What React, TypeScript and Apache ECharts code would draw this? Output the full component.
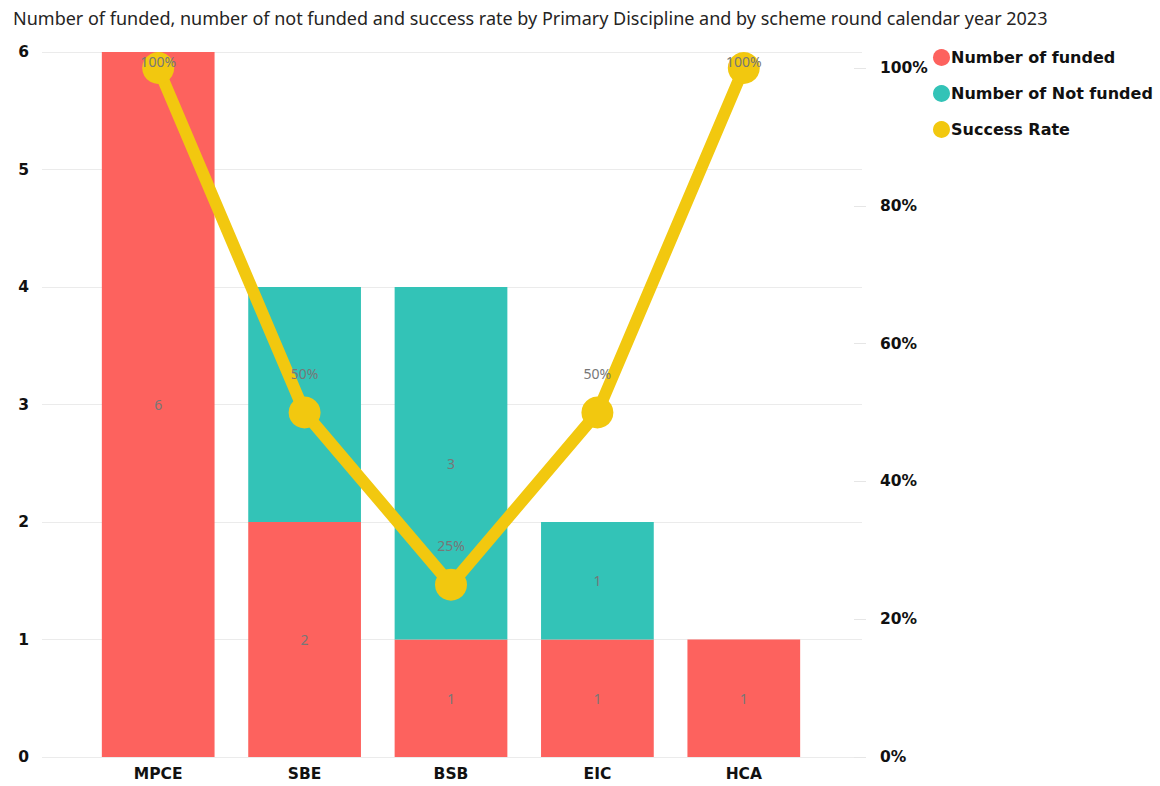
import React, { useEffect, useRef } from "react";
import * as echarts from "echarts";

const categories = ["MPCE", "SBE", "BSB", "EIC", "HCA"];
const funded = [6, 2, 1, 1, 1];
const notFunded = [0, 2, 3, 1, 0];
const successRate = [1, 0.5, 0.25, 0.5, 1];
const leftTicks = { min: 0, max: 6, interval: 1 };
const rightTicks = { min: 0, max: 1, interval: 0.2 };

const RED = "#FD625E";
const TEAL = "#33C3B7";
const YELLOW = "#F2C80F";
const AXIS_FONT = "DejaVu Sans";

export default function App() {
  const ref = useRef<HTMLDivElement>(null);
  useEffect(() => {
    if (!ref.current) return;
    const chart = echarts.init(ref.current, undefined, { renderer: "svg" });
    const barLabel = {
      show: true,
      position: "inside",
      color: "#777",
      fontSize: 14,
      fontFamily: "Noto Sans",
      formatter: (p: any) => (p.value ? String(p.value) : ""),
    };
    chart.setOption({
      animation: false,
      backgroundColor: "#fff",
      title: {
        text: "Number of funded, number of not funded and success rate by Primary Discipline and by scheme round calendar year 2023",
        left: 8,
        top: 4,
        textStyle: { fontSize: 18, fontWeight: "normal", color: "#252423", fontFamily: "Noto Sans" },
      },
      legend: {
        orient: "vertical",
        left: 928,
        top: 44,
        icon: "circle",
        itemWidth: 17,
        itemHeight: 17,
        itemGap: 19,
        data: ["Number of funded", "Number of Not funded", "Success Rate"],
        textStyle: { fontSize: 16, fontWeight: "bold", color: "#111", fontFamily: AXIS_FONT, padding: [0, 0, 0, -4] },
      },
      grid: [
        { left: 42, right: 298, top: 52, bottom: 29 },
        { left: 85, right: 343, top: 52, bottom: 29 },
        { left: 85, right: 343, top: 68, bottom: 29 },
      ],
      xAxis: [
        { gridIndex: 0, type: "value", show: false, min: 0, max: 1 },
        {
          gridIndex: 1,
          type: "category",
          data: categories,
          axisLine: { show: false },
          axisTick: { show: false },
          axisLabel: { color: "#111", fontSize: 15.5, fontWeight: "bold", fontFamily: AXIS_FONT, margin: 9 },
        },
        { gridIndex: 2, type: "category", data: categories, show: false },
      ],
      yAxis: [
        {
          gridIndex: 0,
          type: "value",
          ...leftTicks,
          axisLine: { show: false },
          axisTick: { show: false },
          axisLabel: { color: "#111", fontSize: 15.5, fontWeight: "bold", fontFamily: AXIS_FONT, margin: 13 },
          splitLine: { lineStyle: { color: "#ebebeb", width: 1 } },
        },
        { gridIndex: 1, type: "value", ...leftTicks, show: false },
        {
          gridIndex: 2,
          type: "value",
          position: "right",
          offset: 49,
          ...rightTicks,
          axisLine: { show: false },
          axisTick: { show: true, inside: true, length: 12, lineStyle: { color: "#e6e6e6" } },
          splitLine: { show: false },
          axisLabel: {
            color: "#111",
            fontSize: 15.5,
            fontWeight: "bold",
            fontFamily: AXIS_FONT,
            margin: 14,
            formatter: (v: number) => Math.round(v * 100) + "%",
          },
        },
      ],
      series: [
        {
          name: "Number of funded",
          type: "bar",
          stack: "total",
          xAxisIndex: 1,
          yAxisIndex: 1,
          data: funded,
          barCategoryGap: "23%",
          itemStyle: { color: RED },
          label: barLabel,
        },
        {
          name: "Number of Not funded",
          type: "bar",
          stack: "total",
          xAxisIndex: 1,
          yAxisIndex: 1,
          data: notFunded,
          barCategoryGap: "23%",
          itemStyle: { color: TEAL },
          label: barLabel,
        },
        {
          name: "Success Rate",
          type: "line",
          xAxisIndex: 2,
          yAxisIndex: 2,
          data: successRate.map((v) =>
            v >= 1
              ? { value: v, label: { position: "inside", offset: [0, -7] } }
              : { value: v }
          ),
          symbol: "circle",
          symbolSize: 32,
          lineStyle: { color: YELLOW, width: 12 },
          itemStyle: { color: YELLOW },
          z: 5,
          label: {
            show: true,
            position: "top",
            distance: 16,
            color: "#777",
            fontSize: 14,
            fontFamily: "Noto Sans",
            formatter: (p: any) => Math.round(p.value * 100) + "%",
          },
        },
      ],
    });
    return () => chart.dispose();
  }, []);
  return (
    <div
      ref={ref}
      style={{ position: "fixed", left: 0, top: 0, width: 1160, height: 786 }}
    />
  );
}
